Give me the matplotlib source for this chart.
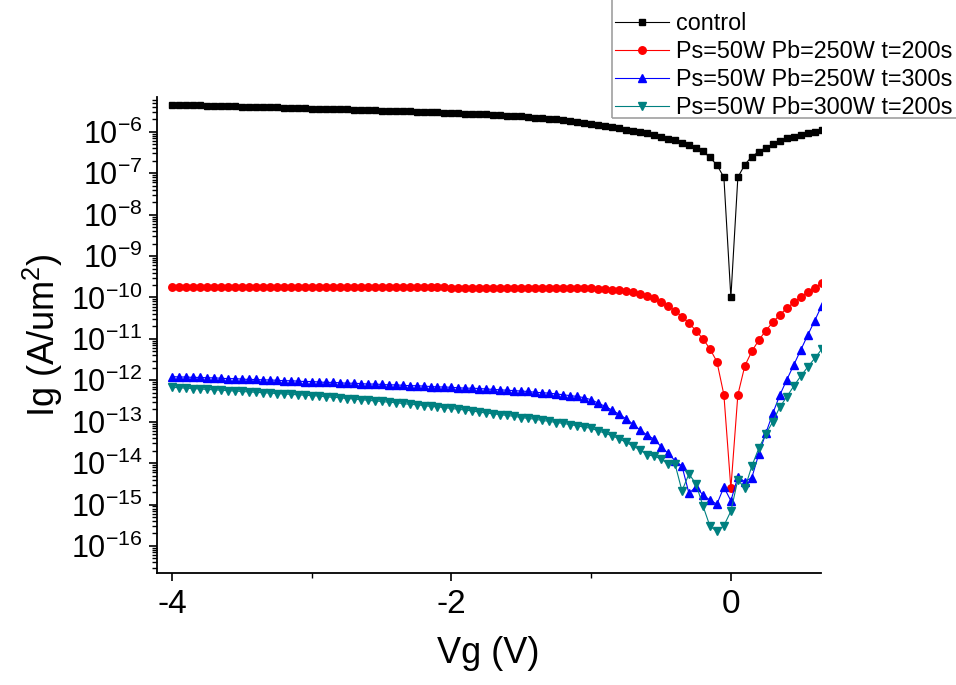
import numpy as np
import matplotlib
matplotlib.use("Agg")
import matplotlib.pyplot as plt
from matplotlib.ticker import FixedLocator, LogLocator, FuncFormatter, NullFormatter
from matplotlib.patches import Rectangle

plt.rcParams['font.family'] = ['Liberation Sans', 'DejaVu Sans']
plt.rcParams['mathtext.fontset'] = 'custom'
plt.rcParams['mathtext.rm'] = 'Liberation Sans'
plt.rcParams['mathtext.it'] = 'Liberation Sans:italic'
plt.rcParams['axes.unicode_minus'] = False

# gate voltage sweep (V)
vg = [-4.00, -3.95, -3.90, -3.85, -3.80, -3.75, -3.70, -3.65, -3.60, -3.55,
      -3.50, -3.45, -3.40, -3.35, -3.30, -3.25, -3.20, -3.15, -3.10, -3.05,
      -3.00, -2.95, -2.90, -2.85, -2.80, -2.75, -2.70, -2.65, -2.60, -2.55,
      -2.50, -2.45, -2.40, -2.35, -2.30, -2.25, -2.20, -2.15, -2.10, -2.05,
      -2.00, -1.95, -1.90, -1.85, -1.80, -1.75, -1.70, -1.65, -1.60, -1.55,
      -1.50, -1.45, -1.40, -1.35, -1.30, -1.25, -1.20, -1.15, -1.10, -1.05,
      -1.00, -0.95, -0.90, -0.85, -0.80, -0.75, -0.70, -0.65, -0.60, -0.55,
      -0.50, -0.45, -0.40, -0.35, -0.30, -0.25, -0.20, -0.15, -0.10, -0.05,
      0.00, 0.05, 0.10, 0.15, 0.20, 0.25, 0.30, 0.35, 0.40, 0.45,
      0.50, 0.55, 0.60, 0.65]

# log10 of Ig (A/um^2)
log_control = [-5.35, -5.35, -5.36, -5.36, -5.36, -5.37, -5.37, -5.38, -5.38, -5.38,
               -5.39, -5.39, -5.40, -5.40, -5.41, -5.41, -5.42, -5.42, -5.43, -5.43,
               -5.44, -5.44, -5.45, -5.45, -5.46, -5.46, -5.47, -5.47, -5.48, -5.48,
               -5.49, -5.49, -5.50, -5.50, -5.51, -5.52, -5.52, -5.53, -5.53, -5.54,
               -5.55, -5.55, -5.56, -5.57, -5.57, -5.58, -5.59, -5.60, -5.61, -5.62,
               -5.63, -5.64, -5.66, -5.67, -5.68, -5.70, -5.72, -5.74, -5.76, -5.78,
               -5.80, -5.83, -5.86, -5.89, -5.92, -5.95, -5.98, -6.01, -6.04, -6.08,
               -6.13, -6.17, -6.21, -6.26, -6.31, -6.38, -6.47, -6.62, -6.80, -7.10,
               -10.00, -7.10, -6.79, -6.60, -6.48, -6.38, -6.30, -6.22, -6.16, -6.12,
               -6.08, -6.04, -6.00, -5.96]

log_250w_200s = [-9.74, -9.74, -9.74, -9.74, -9.74, -9.74, -9.74, -9.74, -9.74, -9.74,
                 -9.74, -9.74, -9.74, -9.74, -9.74, -9.74, -9.74, -9.74, -9.74, -9.74,
                 -9.75, -9.75, -9.75, -9.75, -9.75, -9.75, -9.75, -9.75, -9.75, -9.75,
                 -9.75, -9.75, -9.75, -9.75, -9.75, -9.75, -9.75, -9.75, -9.75, -9.75,
                 -9.76, -9.76, -9.76, -9.76, -9.76, -9.76, -9.76, -9.76, -9.76, -9.76,
                 -9.77, -9.77, -9.77, -9.77, -9.77, -9.77, -9.77, -9.77, -9.77, -9.77,
                 -9.78, -9.79, -9.80, -9.81, -9.83, -9.85, -9.87, -9.91, -9.96, -10.02,
                 -10.10, -10.20, -10.32, -10.46, -10.62, -10.80, -11.00, -11.24, -11.55, -12.35,
                 -14.61, -12.35, -11.65, -11.30, -11.03, -10.80, -10.60, -10.42, -10.26, -10.12,
                 -9.99, -9.87, -9.76, -9.66]

log_250w_300s = [-11.91, -11.92, -11.92, -11.93, -11.93, -11.94, -11.94, -11.95, -11.96, -11.96,
                 -11.97, -11.98, -11.98, -11.99, -11.99, -12.00, -12.01, -12.01, -12.02, -12.03,
                 -12.03, -12.04, -12.05, -12.05, -12.06, -12.07, -12.07, -12.08, -12.09, -12.09,
                 -12.10, -12.11, -12.11, -12.12, -12.13, -12.13, -12.14, -12.15, -12.16, -12.16,
                 -12.17, -12.18, -12.19, -12.19, -12.20, -12.21, -12.22, -12.23, -12.24, -12.25,
                 -12.26, -12.27, -12.29, -12.30, -12.31, -12.33, -12.35, -12.37, -12.39, -12.42,
                 -12.47, -12.55, -12.63, -12.72, -12.82, -12.93, -13.06, -13.20, -13.32, -13.42,
                 -13.60, -13.76, -13.94, -14.07, -14.73, -14.57, -14.77, -14.89, -14.99, -14.58,
                 -14.91, -14.33, -14.45, -14.35, -13.78, -13.28, -12.80, -12.36, -11.99, -11.63,
                 -11.27, -10.91, -10.56, -10.20]

log_300w_200s = [-12.17, -12.18, -12.19, -12.20, -12.21, -12.22, -12.23, -12.24, -12.25, -12.26,
                 -12.27, -12.28, -12.29, -12.30, -12.31, -12.32, -12.33, -12.34, -12.35, -12.36,
                 -12.37, -12.38, -12.40, -12.41, -12.42, -12.44, -12.45, -12.47, -12.48, -12.50,
                 -12.51, -12.53, -12.54, -12.56, -12.58, -12.59, -12.61, -12.63, -12.64, -12.66,
                 -12.68, -12.70, -12.72, -12.74, -12.77, -12.79, -12.81, -12.83, -12.85, -12.87,
                 -12.90, -12.92, -12.94, -12.97, -12.99, -13.02, -13.04, -13.07, -13.10, -13.13,
                 -13.16, -13.22, -13.28, -13.34, -13.41, -13.50, -13.59, -13.68, -13.80, -13.83,
                 -13.90, -14.02, -14.02, -14.67, -14.26, -14.50, -15.03, -15.52, -15.65, -15.51,
                 -15.16, -14.40, -14.61, -14.07, -13.64, -13.30, -13.00, -12.65, -12.40, -12.14,
                 -11.90, -11.68, -11.47, -11.25]

labels = ['control', 'Ps=50W Pb=250W t=200s', 'Ps=50W Pb=250W t=300s', 'Ps=50W Pb=300W t=200s']
colors = ['#000000', '#ff0000', '#0000ff', '#008080']
markers = ['s', 'o', '^', 'v']
msizes = [4.8, 5.4, 6.0, 6.0]
series = [log_control, log_250w_200s, log_250w_300s, log_300w_200s]

W, H = 956, 685
fig = plt.figure(figsize=(W / 100, H / 100), dpi=100)
ax = fig.add_axes([156.7 / W, 1 - 573.3 / H, (820.7 - 156.7) / W, (573.3 - 97) / H])

x = np.array(vg)
handles = []
for s, c, m, ms, lab in zip(series, colors, markers, msizes, labels):
    y = np.power(10.0, np.array(s))
    h, = ax.plot(x, y, color=c, lw=0.8, marker=m, ms=ms, mec=c, mfc=c, label=lab,
                 clip_on=True)
    handles.append(h)

ax.set_yscale('log')
ax.set_xlim(-4.11, 0.643)
ax.set_ylim(10 ** -16.66, 10 ** -5.16)

ax.xaxis.set_major_locator(FixedLocator([-4, -2, 0]))
ax.xaxis.set_minor_locator(FixedLocator([-3, -1]))
ax.set_xticklabels(['-4', '-2', '0'])
ax.yaxis.set_major_locator(LogLocator(base=10, numticks=30))
ax.yaxis.set_minor_locator(LogLocator(base=10, subs=np.arange(2, 10), numticks=30))
ax.yaxis.set_minor_formatter(NullFormatter())
ax.yaxis.set_major_formatter(FuncFormatter(
    lambda v, p: r'$\mathregular{10^{%d}}$' % int(round(np.log10(v)))))

for sp in ['top', 'right']:
    ax.spines[sp].set_visible(False)
for sp in ['left', 'bottom']:
    ax.spines[sp].set_linewidth(1.3)

ax.tick_params(which='major', direction='out', length=6, width=1.2, pad=4)
ax.tick_params(which='minor', direction='out', length=3.5, width=1.0)
ax.tick_params(axis='y', which='major', labelsize=22)
ax.tick_params(axis='x', which='major', labelsize=24, pad=5)

ax.set_xlabel('Vg (V)', fontsize=26, labelpad=12)
ax.set_ylabel(r'Ig (A/um$^{\mathregular{2}}$)', fontsize=26, labelpad=4)

leg = fig.legend(handles=handles, labels=labels, loc='upper left',
                 bbox_to_anchor=(615 / W, 1 - 12 / H), frameon=False,
                 fontsize=16.8, handlelength=2.3, handletextpad=0.3,
                 labelspacing=0.22, borderpad=0, borderaxespad=0)
fig.add_artist(Rectangle((612 / W, 1 - 118 / H), 0.5, 0.5, transform=fig.transFigure,
                         fill=False, edgecolor='#a0a0a0', lw=1.2, clip_on=False))

fig.savefig('out.png', dpi=100)
